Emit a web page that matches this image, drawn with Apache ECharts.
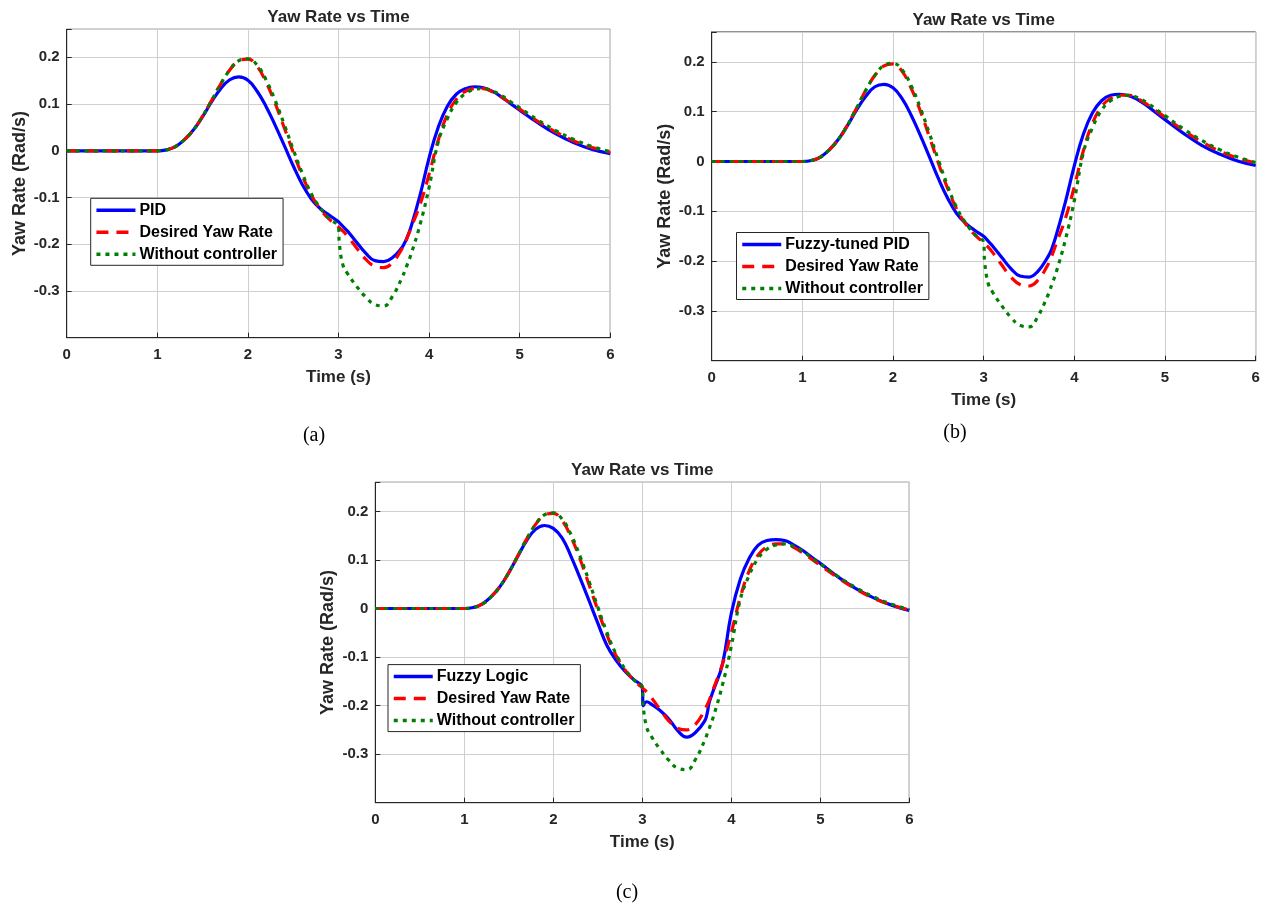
<!DOCTYPE html>
<html>
<head>
<meta charset="utf-8">
<title>Yaw Rate vs Time</title>
<script src="https://cdn.jsdelivr.net/npm/echarts@6/dist/echarts.min.js"></script>
<style>
  html, body { margin: 0; padding: 0; background: #fff; }
  #chart { width: 1267px; height: 912px; }
</style>
</head>
<body>
<div id="chart"></div>
<script>
// time samples (s), shared by every curve
const time = [0, 0.5, 1.0, 1.1, 1.2, 1.3, 1.4, 1.5, 1.6, 1.7, 1.8, 1.9, 2.0, 2.1, 2.2, 2.3, 2.4, 2.5, 2.6, 2.7, 2.8, 2.9,
  3.0, 3.01, 3.05, 3.1, 3.2, 3.3, 3.4, 3.5, 3.6, 3.7, 3.73, 3.75, 3.8, 3.9, 4.0, 4.1, 4.2, 4.3, 4.4, 4.5, 4.6, 4.7, 4.8, 4.9,
  5.0, 5.2, 5.4, 5.6, 5.8, 6.0];

// yaw rate (rad/s)
const desiredYawRate = [0, 0, 0, 0.002, 0.009, 0.024, 0.045, 0.074, 0.108, 0.143, 0.173, 0.192, 0.196, 0.181, 0.147, 0.102, 0.05, -0.003, -0.053, -0.095, -0.125, -0.147,
  -0.163, -0.165, -0.172, -0.183, -0.208, -0.232, -0.247, -0.25, -0.238, -0.21, -0.198, -0.19, -0.165, -0.115, -0.05, 0.022, 0.077, 0.11, 0.127, 0.133, 0.133, 0.126, 0.115, 0.102,
  0.089, 0.063, 0.04, 0.021, 0.007, -0.003];
const withoutController = [0, 0, 0, 0.002, 0.009, 0.024, 0.045, 0.074, 0.108, 0.143, 0.173, 0.193, 0.197, 0.184, 0.152, 0.108, 0.057, 0.003, -0.048, -0.092, -0.123, -0.146,
  -0.163, -0.2, -0.245, -0.263, -0.29, -0.313, -0.329, -0.332, -0.31, -0.272, -0.258, -0.248, -0.222, -0.158, -0.078, 0.018, 0.068, 0.103, 0.122, 0.131, 0.133, 0.128, 0.118, 0.105,
  0.092, 0.066, 0.043, 0.024, 0.009, -0.002];
const pidYawRate = [0, 0, 0, 0.002, 0.009, 0.024, 0.045, 0.073, 0.105, 0.133, 0.152, 0.158, 0.151, 0.128, 0.095, 0.055, 0.012, -0.032, -0.072, -0.103, -0.124, -0.138,
  -0.152, -0.154, -0.162, -0.172, -0.196, -0.219, -0.235, -0.237, -0.228, -0.207, -0.197, -0.189, -0.163, -0.095, -0.015, 0.05, 0.095, 0.121, 0.133, 0.137, 0.135, 0.127, 0.115, 0.101,
  0.087, 0.06, 0.036, 0.017, 0.003, -0.006];
const fuzzyPidYawRate = [0, 0, 0, 0.002, 0.009, 0.024, 0.045, 0.073, 0.104, 0.131, 0.15, 0.155, 0.148, 0.126, 0.093, 0.053, 0.01, -0.034, -0.073, -0.104, -0.124, -0.138,
  -0.15, -0.152, -0.16, -0.17, -0.193, -0.215, -0.23, -0.232, -0.22, -0.194, -0.184, -0.176, -0.148, -0.082, -0.008, 0.055, 0.098, 0.122, 0.133, 0.135, 0.132, 0.124, 0.112, 0.098,
  0.084, 0.057, 0.033, 0.015, 0.001, -0.008];
const fuzzyLogicYawRate = [0, 0, 0, 0.002, 0.009, 0.024, 0.045, 0.074, 0.107, 0.14, 0.163, 0.171, 0.165, 0.145, 0.107, 0.063, 0.017, -0.03, -0.075, -0.105, -0.128, -0.146,
  -0.163, -0.2, -0.192, -0.197, -0.21, -0.228, -0.252, -0.265, -0.255, -0.232, -0.215, -0.195, -0.168, -0.115, -0.01, 0.06, 0.103, 0.13, 0.14, 0.142, 0.14, 0.131, 0.12, 0.106,
  0.093, 0.065, 0.041, 0.022, 0.007, -0.004];

const yTickLabels = ["-0.3", "-0.2", "-0.1", "0", "0.1", "0.2"];
const controllerNames = ["PID", "Fuzzy-tuned PID", "Fuzzy Logic"];
const controllerSeries = [pidYawRate, fuzzyPidYawRate, fuzzyLogicYawRate];
const panelLabels = ["(a)", "(b)", "(c)"];

const FONT = "Liberation Sans, Arial, sans-serif";
const TEXT = "#262626";

// plot boxes of the three panels (px)
const panels = [
  { left: 66.7, top: 29.3, width: 543.6, height: 308.4, legend: [90.7, 198.3], label: [314, 436] },
  { left: 711.7, top: 32, width: 544, height: 328.7, legend: [736.5, 232.5], label: [955, 433] },
  { left: 375.3, top: 482.3, width: 534, height: 320.4, legend: [388, 664.6], label: [627, 893] },
];

function pairs(values) {
  return time.map((t, i) => [t, values[i]]);
}

const chart = echarts.init(document.getElementById("chart"));

const grids = [];
const xAxes = [];
const yAxes = [];
const series = [];
const legends = [];
const graphics = [];

panels.forEach((p, i) => {
  grids.push({
    left: p.left, top: p.top, width: p.width, height: p.height,
    show: true, borderColor: TEXT, borderWidth: 1, backgroundColor: "#fff",
  });

  xAxes.push({
    gridIndex: i, type: "value", min: 0, max: 6, interval: 1,
    name: "Time (s)", nameLocation: "middle", nameGap: 31,
    nameTextStyle: { fontFamily: FONT, fontWeight: "bold", fontSize: 17, color: TEXT, lineHeight: 17 },
    axisLine: { show: true, onZero: false, lineStyle: { color: TEXT } },
    axisTick: { show: true, inside: true, length: 5, lineStyle: { color: TEXT } },
    axisLabel: { margin: 10, fontFamily: FONT, fontWeight: "bold", fontSize: 15, color: TEXT },
    splitLine: { show: true, lineStyle: { color: "#cfcfcf", width: 1 } },
  });

  yAxes.push({
    gridIndex: i, type: "value", min: -0.4, max: 0.26, interval: 0.1,
    name: "Yaw Rate (Rad/s)", nameLocation: "middle", nameGap: 38,
    nameTextStyle: { fontFamily: FONT, fontWeight: "bold", fontSize: 18, color: TEXT, lineHeight: 18 },
    axisLine: { show: true, onZero: false, lineStyle: { color: TEXT } },
    axisTick: { show: true, inside: true, length: 5, lineStyle: { color: TEXT } },
    axisLabel: {
      margin: 7, fontFamily: FONT, fontWeight: "bold", fontSize: 15, color: TEXT,
      formatter: (v) => {
        const s = String(+v.toFixed(2));
        return yTickLabels.includes(s) ? s : "";
      },
    },
    splitLine: { show: true, lineStyle: { color: "#cfcfcf", width: 1 } },
  });

  // itemStyle opacity 0 keeps the legend to a plain line sample
  series.push(
    {
      name: controllerNames[i], type: "line", xAxisIndex: i, yAxisIndex: i,
      data: pairs(controllerSeries[i]), symbol: "none", smooth: 0.45,
      lineStyle: { color: "#0000ff", width: 3.2 }, itemStyle: { color: "#0000ff", opacity: 0 },
    },
    {
      name: "Desired Yaw Rate", type: "line", xAxisIndex: i, yAxisIndex: i,
      data: pairs(desiredYawRate), symbol: "none", smooth: 0.45,
      lineStyle: { color: "#ff0000", width: 3.2, type: [12, 8] }, itemStyle: { color: "#ff0000", opacity: 0 },
    },
    {
      name: "Without controller", type: "line", xAxisIndex: i, yAxisIndex: i,
      data: pairs(withoutController), symbol: "none", smooth: 0.45,
      lineStyle: { color: "#008000", width: 3.2, type: [4, 5] }, itemStyle: { color: "#008000", opacity: 0 },
    }
  );

  legends.push({
    left: p.legend[0], top: p.legend[1], orient: "vertical",
    data: [controllerNames[i], "Desired Yaw Rate", "Without controller"],
    itemWidth: 39, itemHeight: 16, itemGap: 6,
    padding: [4, 6, 3, 4],
    borderColor: TEXT, borderWidth: 1, backgroundColor: "#fff",
    selectedMode: false,
    itemStyle: { opacity: 0 },
    lineStyle: { width: 3.5 },
    textStyle: { fontFamily: FONT, fontWeight: "bold", fontSize: 16, color: "#000", padding: [0, 0, 0, -1] },
  });

  // panel title and sub-figure label
  graphics.push(
    {
      type: "text", x: p.left + p.width / 2, y: p.top - 12,
      style: { text: "Yaw Rate vs Time", font: "bold 17px " + FONT, fill: TEXT, align: "center", verticalAlign: "middle" },
    },
    {
      type: "text", x: p.label[0], y: p.label[1],
      style: { text: panelLabels[i], font: "20px Liberation Serif, Times New Roman, serif", fill: "#000", align: "center", verticalAlign: "middle" },
    }
  );
});

chart.setOption({
  animation: false,
  backgroundColor: "#fff",
  grid: grids,
  xAxis: xAxes,
  yAxis: yAxes,
  legend: legends,
  series: series,
  graphic: graphics,
});

window.addEventListener("resize", () => chart.resize());
</script>
</body>
</html>
